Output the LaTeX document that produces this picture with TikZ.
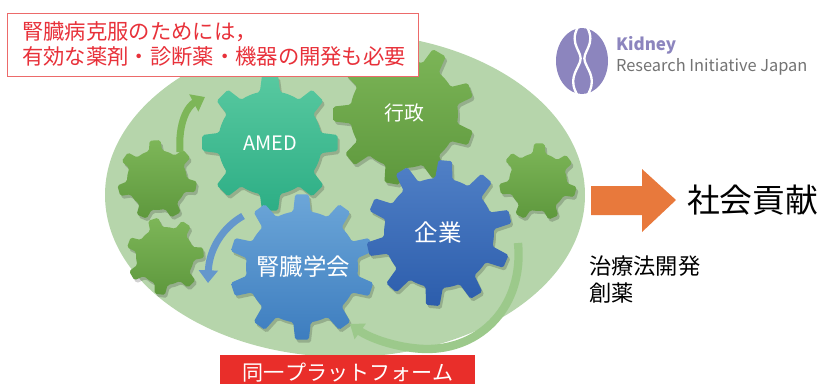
\documentclass[tikz,border=0pt]{standalone}
\usepackage{fontspec}
\setmainfont{Noto Sans CJK JP}
\usetikzlibrary{arrows.meta}

\definecolor{platgreen}{HTML}{B6D5AB}
\definecolor{gearA}{HTML}{7DB658}
\definecolor{gearB}{HTML}{5E983D}
\definecolor{amedA}{HTML}{58C9A0}
\definecolor{amedB}{HTML}{2DAE85}
\definecolor{kigyoA}{HTML}{5080C6}
\definecolor{kigyoB}{HTML}{2C5DAC}
\definecolor{gakkaiA}{HTML}{6CA6D8}
\definecolor{gakkaiB}{HTML}{3D7DBF}
\definecolor{boxred}{HTML}{EC6A6A}
\definecolor{textred}{HTML}{E8313A}
\definecolor{platred}{HTML}{E92E2A}
\definecolor{outorange}{HTML}{E8793C}
\definecolor{kidneyviolet}{HTML}{8C85BE}
\definecolor{loopgreen}{HTML}{9CC98B}

% gear: x, y, teeth, inner r, outer r, offset angle, top colour, bottom colour
\newcommand{\gear}[8]{%
  \pgfmathsetmacro{\gp}{360/#3}
  \begin{scope}[shift={(#1,#2)}]
    % soft shadow
    \fill[black, opacity=0.18, rounded corners=1.5pt, shift={(2,3)}]
      ({#6-0.25*\gp}:#4)
      \foreach \k in {1,...,#3}{
        -- ({#6+(\k-1)*\gp-0.15*\gp}:#5) -- ({#6+(\k-1)*\gp+0.15*\gp}:#5)
        -- ({#6+(\k-1)*\gp+0.25*\gp}:#4) -- ({#6+(\k-1)*\gp+0.42*\gp}:#4)
        -- ({#6+(\k-1)*\gp+0.58*\gp}:#4) -- ({#6+(\k-1)*\gp+0.75*\gp}:#4)
      } -- cycle;
    \shade[top color=#7, bottom color=#8, rounded corners=1.5pt]
      ({#6-0.25*\gp}:#4)
      \foreach \k in {1,...,#3}{
        -- ({#6+(\k-1)*\gp-0.15*\gp}:#5) -- ({#6+(\k-1)*\gp+0.15*\gp}:#5)
        -- ({#6+(\k-1)*\gp+0.25*\gp}:#4) -- ({#6+(\k-1)*\gp+0.42*\gp}:#4)
        -- ({#6+(\k-1)*\gp+0.58*\gp}:#4) -- ({#6+(\k-1)*\gp+0.75*\gp}:#4)
      } -- cycle;
  \end{scope}}

\tikzset{
  geartext/.style={text=white, font=\fontsize{17}{20}\selectfont},
  turn/.style={line width=2.1mm, -{Triangle[length=3.8mm, width=5.6mm]}},
}

\begin{document}
\begin{tikzpicture}[x={(0.03cm,0cm)}, y={(0cm,-0.03cm)}]

\useasboundingbox (0,0) rectangle (827,383);

% Platform ellipse
\fill[platgreen] (345,195) ellipse [x radius=240, y radius=162];

% Small gears
\gear{157}{180}{7}{30}{40}{10}{gearA}{gearB}
\gear{165}{256}{7}{29}{39}{-5}{gearA}{gearB}
\gear{538}{182}{7}{29}{39}{15}{gearA}{gearB}

% Main gears
\gear{404}{114}{9}{54}{71}{20}{gearA}{gearB}
\gear{270}{143}{8}{52}{68}{-90}{amedA}{amedB}
\gear{302}{267}{10}{56}{73}{-90}{gakkaiA}{gakkaiB}
\gear{439}{233}{10}{55}{73}{-85}{kigyoA}{kigyoB}

\node[geartext] (amed) at (270,143) {AMED};
\node[geartext] (gyosei) at (404,113) {行政};
\node[geartext, font=\fontsize{20}{24}\selectfont] (kigyo) at (438,233) {企業};
\node[geartext, font=\fontsize{20}{24}\selectfont] (gakkai) at (303,267) {腎臓学会};

% Turning arrows
\draw[turn, draw=gearA] (180,152) .. controls (178,122) and (188,106) .. (205,97);
\draw[turn, draw=gakkaiB!80] (243,216) .. controls (222,228) and (209,250) .. (208,283);
\draw[turn, draw=loopgreen, line width=2.5mm] (518,243) .. controls (524,305) and (482,350) .. (425,349)
  .. controls (395,348) and (368,337) .. (350,324);

% Goal box
\draw[boxred, fill=white, line width=0.6pt] (7,13) rectangle (418,76);
\node[anchor=west, align=left, text=textred, font=\fontsize{18.2}{21.3}\selectfont] (goal) at (18,44)
  {腎臓病克服のためには，\\有効な薬剤・診断薬・機器の開発も必要};

% Platform label
\fill[platred] (220,355) rectangle (475,390);
\node[text=white, font=\fontsize{18}{20}\selectfont] (platform) at (348,373) {同一プラットフォーム};

% Output arrow
\fill[outorange] (591,186) -- (642,186) -- (642,169) -- (676,200) -- (642,232) -- (642,215) -- (591,215) -- cycle;
\node[anchor=west, font=\fontsize{28}{32}\selectfont] (kouken) at (683,200) {社会貢献};
\node[anchor=north west, align=left, font=\fontsize{19}{23}\selectfont] (kaihatsu) at (585,252)
  {治療法開発\\創薬};

% Logo
\fill[kidneyviolet] (582,61) ellipse [x radius=26, y radius=33];
\draw[white, line width=0.7mm] (578,27) .. controls (568,45) and (584,52) .. (580,62)
  .. controls (576,72) and (568,80) .. (578,96);
\draw[white, line width=0.7mm] (587,27) .. controls (597,45) and (581,52) .. (585,62)
  .. controls (589,72) and (597,80) .. (587,96);
\node[anchor=west, text=kidneyviolet, font=\bfseries\fontsize{14.5}{16}\selectfont] (kidney) at (612,45) {Kidney};
\node[anchor=west, text=black!55, font=\fontsize{14}{16}\selectfont] (kidneyfull) at (612,67) {Research Initiative Japan};

\end{tikzpicture}
\end{document}
